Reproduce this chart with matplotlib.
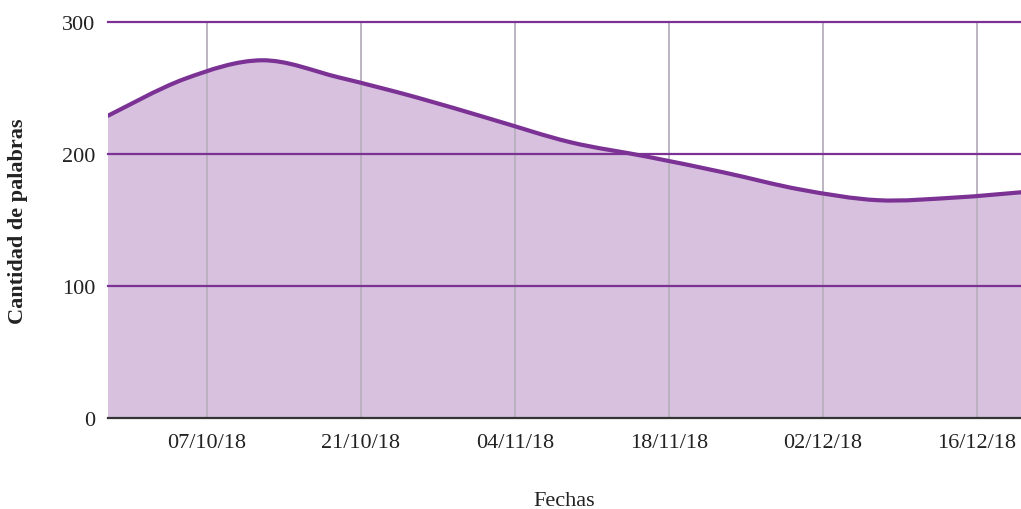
import numpy as np
import pandas as pd
import matplotlib
matplotlib.use('Agg')
import matplotlib.pyplot as plt
import matplotlib.dates as mdates
from matplotlib.path import Path
from matplotlib.patches import PathPatch

# data (weekly word counts)
fechas = ['2018-09-28', '2018-10-05', '2018-10-12', '2018-10-19', '2018-10-26',
          '2018-11-02', '2018-11-09', '2018-11-16', '2018-11-23', '2018-11-30',
          '2018-12-07', '2018-12-14', '2018-12-20']
palabras = [229, 257, 271, 258, 243, 226, 209, 198, 186, 173, 165, 167, 171]
tick_fechas = ['2018-10-07', '2018-10-21', '2018-11-04', '2018-11-18', '2018-12-02', '2018-12-16']
tick_labels = ['07/10/18', '21/10/18', '04/11/18', '18/11/18', '02/12/18', '16/12/18']
y_ticks = [0, 100, 200, 300]

LINE = '#7b3294'
FILL = '#d7c1df'

plt.rcParams['font.family'] = ['Liberation Serif', 'DejaVu Serif']


def smooth_path(x, y):
    # catmull-rom -> bezier, so the line is drawn as a smooth curve through the points
    verts = [(x[0], y[0])]
    codes = [Path.MOVETO]
    n = len(x)
    for i in range(n - 1):
        x0, y0 = (x[i - 1], y[i - 1]) if i > 0 else (x[i], y[i])
        x3, y3 = (x[i + 2], y[i + 2]) if i + 2 < n else (x[i + 1], y[i + 1])
        c1 = (x[i] + (x[i + 1] - x0) / 6, y[i] + (y[i + 1] - y0) / 6)
        c2 = (x[i + 1] - (x3 - x[i]) / 6, y[i + 1] - (y3 - y[i]) / 6)
        verts += [c1, c2, (x[i + 1], y[i + 1])]
        codes += [Path.CURVE4] * 3
    return verts, codes


x = mdates.date2num(pd.to_datetime(fechas))
y = np.array(palabras, dtype=float)

fig = plt.figure(figsize=(10.21, 5.10), dpi=100)
ax = fig.add_axes([108 / 1021, 1 - 419 / 510, 1 - 108 / 1021, 396 / 510])

verts, codes = smooth_path(x, y)
fill_verts = verts + [(x[-1], 0), (x[0], 0), (x[0], y[0])]
fill_codes = codes + [Path.LINETO, Path.LINETO, Path.CLOSEPOLY]
ax.add_patch(PathPatch(Path(fill_verts, fill_codes), facecolor=FILL, edgecolor='none', zorder=1))
ax.add_patch(PathPatch(Path(verts, codes), facecolor='none', edgecolor=LINE, lw=3, zorder=4,
                       capstyle='round'))

ax.set_xlim(x[0], x[-1])
ax.set_ylim(0, 300)

xt = mdates.date2num(pd.to_datetime(tick_fechas))
ax.set_xticks(xt)
ax.set_xticklabels(tick_labels)
ax.set_yticks(y_ticks)
for v in xt:
    ax.axvline(v, color='#b8b0bd', lw=1.3, zorder=2)
for v in y_ticks[1:]:
    ax.axhline(v, color=LINE, lw=1.6, zorder=3, clip_on=False)

ax.tick_params(axis='both', length=0, labelsize=16, colors='#222222')
ax.tick_params(axis='x', pad=11)
ax.tick_params(axis='y', pad=9)
for s in ['top', 'right', 'left']:
    ax.spines[s].set_visible(False)
ax.spines['bottom'].set_color('#333333')
ax.spines['bottom'].set_linewidth(1.6)
ax.spines['bottom'].set_zorder(5)

fig.text(564 / 1021, 1 - 502 / 510, 'Fechas', ha='center', va='center', fontsize=16, color='#222222')
fig.text(18 / 1021, 1 - 221 / 510, 'Cantidad de palabras', ha='center', va='center',
         rotation=90, fontsize=16, fontweight='bold', color='#222222')

fig.savefig('out.png', dpi=100)
